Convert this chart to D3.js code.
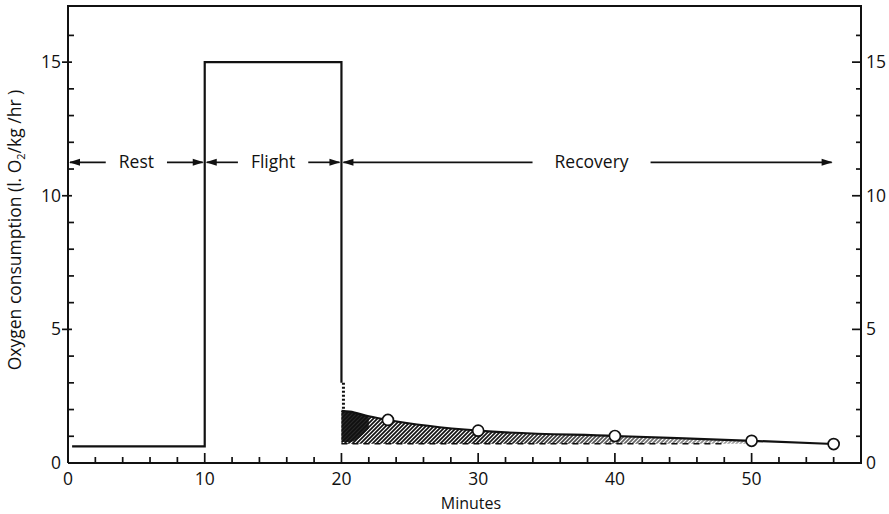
<!DOCTYPE html>
<html>
<head>
<meta charset="utf-8">
<script src="https://cdn.jsdelivr.net/npm/d3@7"></script>
<style>
  body { margin: 0; background: #fff; }
  text { font-family: "Open Sans", sans-serif; fill: #111; }
</style>
</head>
<body>
<svg id="chart" width="889" height="514"></svg>
<script>
// ---- data ----
const stepMinutes = [0.3, 10, 10, 20, 20];
const stepValues  = [0.62, 0.62, 15, 15, 3.0];

// smooth recovery curve (upper edge of the hatched debt)
const recoveryMinutes = [20, 20.6, 22, 23.4, 30, 40, 50, 56];
const recoveryValues  = [1.95, 1.92, 1.75, 1.61, 1.21, 1.01, 0.83, 0.71];

// measured points (open circles)
const sampleMinutes = [23.4, 30, 40, 50, 56];
const sampleValues  = [1.61, 1.21, 1.01, 0.83, 0.71];

const baselineValue = 0.72;
const baselineEnd = 48;

const phaseLabels = ["Rest", "Flight", "Recovery"];
const phaseStarts = [0, 10, 20];
const phaseEnds   = [10, 20, 56];
const phaseLevel = 11.25;

const xMajorTicks = [0, 10, 20, 30, 40, 50];
const yMajorTicks = [0, 5, 10, 15];

// ---- layout ----
const svg = d3.select("#chart");
const x = d3.scaleLinear().domain([0, 58]).range([68, 861]);
const y = d3.scaleLinear().domain([0, 17.1]).range([463, 6]);
const x0 = x.range()[0], x1 = x.range()[1];
const yb = y.range()[0], yt = y.range()[1];
const ink = "#111";

// hatch pattern
const defs = svg.append("defs");
defs.append("pattern")
  .attr("id", "hatch")
  .attr("patternUnits", "userSpaceOnUse")
  .attr("width", 4).attr("height", 4)
  .append("path")
  .attr("d", "M-1,1 l2,-2 M0,4 l4,-4 M3,5 l2,-2")
  .attr("stroke", ink).attr("stroke-width", 1.7);

const grad = defs.append("linearGradient")
  .attr("id", "fade")
  .attr("gradientUnits", "userSpaceOnUse")
  .attr("x1", x(30)).attr("x2", x(49)).attr("y1", 0).attr("y2", 0);
grad.append("stop").attr("offset", 0).attr("stop-color", "#fff");
grad.append("stop").attr("offset", 1).attr("stop-color", "#666");
defs.append("mask").attr("id", "fadeMask")
  .append("rect")
  .attr("x", 0).attr("y", 0).attr("width", 889).attr("height", 514)
  .attr("fill", "url(#fade)");

// ---- frame ----
svg.append("path")
  .attr("d", `M${x0},${yb} V${yt} H${x1} V${yb} H${x0}`)
  .attr("fill", "none").attr("stroke", ink).attr("stroke-width", 2);

// bottom ticks (every 2 min, pointing up)
const xMinor = d3.range(2, 57, 2);
svg.append("g").selectAll("line")
  .data(xMinor)
  .join("line")
  .attr("x1", d => x(d)).attr("x2", d => x(d))
  .attr("y1", yb)
  .attr("y2", d => yb - (d % 10 === 0 ? 10 : 6))
  .attr("stroke", ink).attr("stroke-width", 1.7);

svg.append("g").selectAll("text")
  .data(xMajorTicks)
  .join("text")
  .attr("x", d => x(d)).attr("y", 485)
  .attr("text-anchor", "middle")
  .style("font-size", "17.5px")
  .text(d => d);

// left & right vertical ticks
const yMinor = d3.range(1, 17);
svg.append("g").selectAll("line")
  .data(yMinor)
  .join("line")
  .attr("x1", d => yMajorTicks.includes(d) ? x0 - 6 : x0)
  .attr("x2", d => yMajorTicks.includes(d) ? x0 + 4 : x0 + 6)
  .attr("y1", d => y(d)).attr("y2", d => y(d))
  .attr("stroke", ink).attr("stroke-width", 1.7);

svg.append("g").selectAll("line")
  .data(yMinor)
  .join("line")
  .attr("x1", x1)
  .attr("x2", d => x1 - (yMajorTicks.includes(d) ? 9 : 5))
  .attr("y1", d => y(d)).attr("y2", d => y(d))
  .attr("stroke", ink).attr("stroke-width", 1.7);

svg.append("g").selectAll("text")
  .data(yMajorTicks)
  .join("text")
  .attr("x", x0 - 7).attr("y", d => y(d) + 6)
  .attr("text-anchor", "end")
  .style("font-size", "17.5px")
  .text(d => d);

svg.append("g").selectAll("text")
  .data(yMajorTicks)
  .join("text")
  .attr("x", x1 + 5).attr("y", d => y(d) + 6)
  .attr("text-anchor", "start")
  .style("font-size", "17.5px")
  .text(d => d);

// axis titles
svg.append("text")
  .attr("x", 471).attr("y", 509)
  .attr("text-anchor", "middle")
  .style("font-size", "16px")
  .text("Minutes");

const yTitle = svg.append("text")
  .attr("transform", "translate(21,230) rotate(-90)")
  .attr("text-anchor", "middle")
  .style("font-size", "17.5px");
yTitle.append("tspan").text("Oxygen consumption (l. O");
yTitle.append("tspan").attr("dy", 4).style("font-size", "11px").text("2");
yTitle.append("tspan").attr("dy", -4).text("/kg /hr )");

// ---- oxygen debt area ----
const recPts = recoveryMinutes.map((m, i) => [m, recoveryValues[i]])
  .filter(d => d[0] <= 50);

const debtArea = d3.area()
  .x(d => x(d[0]))
  .y0(y(baselineValue))
  .y1(d => y(d[1]))
  .curve(d3.curveMonotoneX);

svg.append("path")
  .attr("d", debtArea(recPts))
  .attr("fill", "url(#hatch)")
  .attr("mask", "url(#fadeMask)");

// dark patch just after the flight stops, thinning towards 22 min
const darkPts = recPts.filter(d => d[0] <= 22);
svg.append("path")
  .attr("d", d3.area()
    .x(d => x(d[0]))
    .y0(d => y(d[1] - (d[1] - baselineValue) * (d[0] < 21 ? 0.95 : 0.45)))
    .y1(d => y(d[1]))
    .curve(d3.curveMonotoneX)(darkPts))
  .attr("fill", ink).attr("opacity", 0.9);

// dashed resting baseline
svg.append("line")
  .attr("x1", x(20)).attr("x2", x(baselineEnd))
  .attr("y1", y(baselineValue)).attr("y2", y(baselineValue))
  .attr("stroke", ink).attr("stroke-width", 1.5)
  .attr("stroke-dasharray", "6,5");

// ---- rest / flight step line ----
const stepLine = d3.line().x(d => x(d[0])).y(d => y(d[1]));
svg.append("path")
  .attr("d", stepLine(stepMinutes.map((m, i) => [m, stepValues[i]])))
  .attr("fill", "none").attr("stroke", ink).attr("stroke-width", 2.2);

// speckled drop down to the recovery curve
svg.append("line")
  .attr("x1", x(20) + 2).attr("x2", x(20) + 2)
  .attr("y1", y(stepValues[4])).attr("y2", y(recoveryValues[0]))
  .attr("stroke", ink).attr("stroke-width", 3)
  .attr("stroke-dasharray", "2,2");

// recovery curve
svg.append("path")
  .attr("d", d3.line()
    .x(d => x(d[0])).y(d => y(d[1]))
    .curve(d3.curveMonotoneX)(recoveryMinutes.map((m, i) => [m, recoveryValues[i]])))
  .attr("fill", "none").attr("stroke", ink).attr("stroke-width", 2.2);

svg.append("g").selectAll("circle")
  .data(sampleMinutes.map((m, i) => [m, sampleValues[i]]))
  .join("circle")
  .attr("cx", d => x(d[0])).attr("cy", d => y(d[1]))
  .attr("r", 5.5)
  .attr("fill", "#fff").attr("stroke", ink).attr("stroke-width", 1.7);

// ---- phase arrows ----
const py = y(phaseLevel);
const head = (tipX, dir) =>
  `M${tipX},${py} L${tipX - dir * 11},${py - 3.5} L${tipX - dir * 11},${py + 3.5} Z`;

phaseLabels.forEach((label, i) => {
  const a = x(phaseStarts[i]), b = x(phaseEnds[i]);
  const t = svg.append("text")
    .attr("x", (a + b) / 2 + (i === 2 ? 4 : 0)).attr("y", py + 6)
    .attr("text-anchor", "middle")
    .style("font-size", "17.5px")
    .text(label);
  const w = t.node().getComputedTextLength();
  const cx = +t.attr("x");
  const gap = i === 2 ? 22 : 13;
  svg.append("line")
    .attr("x1", a + 2).attr("x2", cx - w / 2 - gap)
    .attr("y1", py).attr("y2", py)
    .attr("stroke", ink).attr("stroke-width", 1.7);
  svg.append("line")
    .attr("x1", cx + w / 2 + gap).attr("x2", b - 2)
    .attr("y1", py).attr("y2", py)
    .attr("stroke", ink).attr("stroke-width", 1.7);
  svg.append("path").attr("d", head(a + 1, -1)).attr("fill", ink);
  svg.append("path").attr("d", head(b - 1, 1)).attr("fill", ink);
});
</script>
</body>
</html>
